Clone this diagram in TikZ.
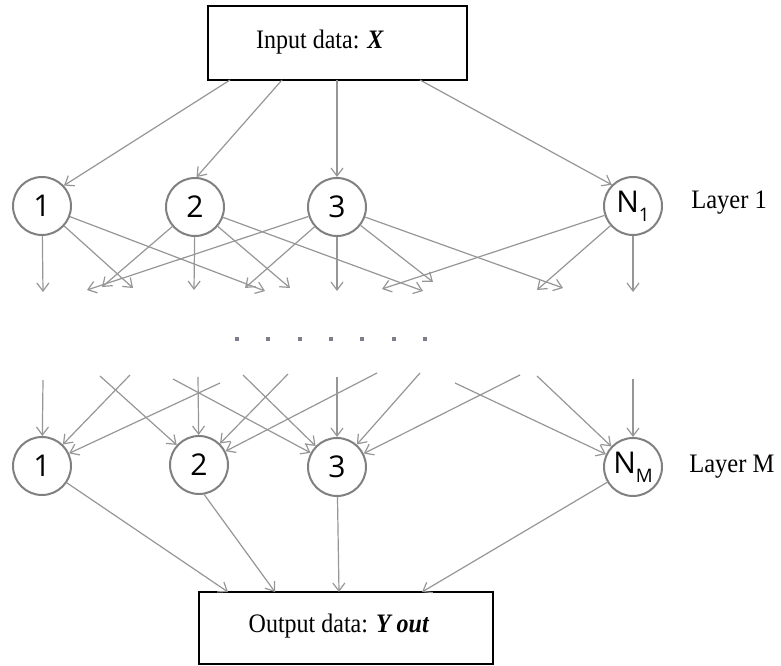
\documentclass[tikz,border=0pt]{standalone}
\usepackage{fontspec}
\setmainfont{Liberation Serif}
\newfontfamily\circfont{Open Sans}
\usetikzlibrary{arrows.meta}
\definecolor{linegray}{RGB}{150,150,150}
\definecolor{ringgray}{RGB}{128,128,128}
\definecolor{dotgray}{RGB}{125,125,140}
\newcommand{\narrowtxt}[1]{\scalebox{0.9}[1]{#1}}
\begin{document}
\begin{tikzpicture}[x=0.75pt,y=-0.75pt,
  neuron/.style={circle,draw=ringgray,line width=1.5pt,minimum size=43.5pt,inner sep=0pt,
    font=\circfont\fontsize{22.5}{22.5}\selectfont},
  databox/.style={draw=black,line width=1.2pt,inner sep=0pt},
  conn/.style={draw=linegray,line width=0.9pt,-{Straight Barb[length=6pt,width=9pt]}},
  lbl/.style={font=\fontsize{20}{20}\selectfont,inner sep=0pt},
  dotsq/.style={fill=dotgray,minimum size=3pt,inner sep=0pt}
]
\useasboundingbox (0,0) rectangle (781,666);

% boxes
\node[databox,minimum width=194.25pt,minimum height=55.5pt] (inbox) at (337.5,43) {};
\node[lbl] (intext) at (320,42) {\narrowtxt{Input data: \textbf{\textit{X}}}};
\node[databox,minimum width=220.5pt,minimum height=54pt] (outbox) at (346,628) {};
\node[lbl] (outtext) at (339,626) {\narrowtxt{Output data: \textbf{\textit{Y out}}}};

% layer 1
\node[neuron] (l1a) at (42,206) {\raisebox{-0.08em}{1}};
\node[neuron] (l1b) at (195,207) {\raisebox{-0.08em}{2}};
\node[neuron] (l1c) at (337,207) {\raisebox{-0.08em}{3}};
\node[neuron] (l1n) at (633,206) {\raisebox{-0.08em}{N\raisebox{-0.3em}{\fontsize{14}{14}\selectfont 1}}};
\node[lbl,anchor=west] (lab1) at (691,203) {\scalebox{0.92}[1]{Layer 1}};

% layer M
\node[neuron] (lma) at (42,466) {\raisebox{-0.08em}{1}};
\node[neuron] (lmb) at (199,465) {\raisebox{-0.08em}{2}};
\node[neuron] (lmc) at (337,467) {\raisebox{-0.08em}{3}};
\node[neuron] (lmn) at (633,467) {\raisebox{-0.08em}{N\raisebox{-0.3em}{\fontsize{14}{14}\selectfont M}}};
\node[lbl,anchor=west] (lab2) at (689,467) {\scalebox{0.92}[1]{Layer M}};

% dots
\foreach \x [count=\i] in {237,268,300,331,362,394,425}
  \node[dotsq] (d\i) at (\x,339) {};

% input connectors
\coordinate (i1) at (230,80);
\coordinate (i2) at (282,80);
\coordinate (i3) at (337,80);
\coordinate (i4) at (420,80);
\draw[conn] (i1) -- (l1a.43);
\draw[conn] (i2) -- (l1b.87);
\draw[conn] (i3) -- (l1c.north);
\draw[conn] (i4) -- (l1n.135);

% layer 1 fan-out
\foreach \src/\nm/\x/\y in {l1a/fa1/43/292, l1a/fa2/133/288, l1a/fa3/265/291,
    l1b/fb1/102/287, l1b/fb2/194/290, l1b/fb3/290/288, l1b/fb4/423/291,
    l1c/fc1/87/290, l1c/fc2/245/288, l1c/fc3/337/291, l1c/fc4/433/282, l1c/fc5/563/288,
    l1n/fn1/382/289, l1n/fn2/537/290, l1n/fn3/633/292} {
  \coordinate (\nm) at (\x,\y);
  \draw[conn] (\src) -- (\nm);
}

% layer M fan-in
\foreach \dst/\nm/\x/\y in {lma/ga1/43/380, lma/ga2/130/375, lma/ga3/220/383,
    lmb/gb1/100/376, lmb/gb2/198/377, lmb/gb3/288/374, lmb/gb4/377/373,
    lmc/gc1/173/379, lmc/gc2/243/375, lmc/gc3/337/377, lmc/gc4/420/373, lmc/gc5/520/375,
    lmn/gn1/455/383, lmn/gn2/537/376, lmn/gn3/633/379} {
  \coordinate (\nm) at (\x,\y);
  \draw[conn] (\nm) -- (\dst);
}

% output connectors
\coordinate (o1) at (228,592);
\coordinate (o2) at (275,592);
\coordinate (o3) at (339,592);
\coordinate (o4) at (422,592);
\draw[conn] (lma) -- (o1);
\draw[conn] (lmb.-80) -- (o2);
\draw[conn] (lmc) -- (o3);
\draw[conn] (lmn) -- (o4);
\end{tikzpicture}
\end{document}
